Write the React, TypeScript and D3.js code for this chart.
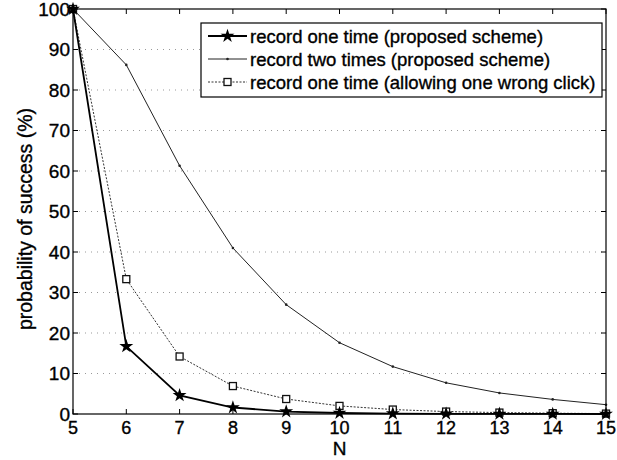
import React from "react";
import * as d3 from "d3";

const N = [5, 6, 7, 8, 9, 10, 11, 12, 13, 14, 15];
const recordOne = [100, 16.7, 4.6, 1.6, 0.6, 0.25, 0.1, 0.05, 0.02, 0.01, 0];
const recordTwo = [100, 86.2, 61.3, 41, 27, 17.6, 11.7, 7.7, 5.2, 3.6, 2.3];
const recordOneWrong = [100, 33.3, 14.2, 6.9, 3.7, 2.0, 1.1, 0.6, 0.35, 0.2, 0.1];
const yTicks = [0, 10, 20, 30, 40, 50, 60, 70, 80, 90, 100];
const legendLabels = [
  "record one time (proposed scheme)",
  "record two times (proposed scheme)",
  "record one time (allowing one wrong click)",
];

const W = 617, H = 460;
const L = 73, R = 606, T = 9, B = 414;
const FONT = "'Liberation Sans', Arial, Helvetica, sans-serif";

export default function App() {
  const x = d3.scaleLinear().domain([5, 15]).range([L, R]);
  const y = d3.scaleLinear().domain([0, 100]).range([B, T]);
  const line = d3.line<number>().x((_, i) => x(N[i])).y((d) => y(d));
  const star = d3.symbol().type(d3.symbolStar).size(60)() as string;
  const tick = 5;
  const txt = { fill: "#000", stroke: "#000", strokeWidth: 0.35 } as any;

  return (
    <svg width={W} height={H} style={{ position: "absolute", left: 0, top: 0, background: "#fff" }} fontFamily={FONT}>
      <rect x={0} y={0} width={W} height={H} fill="#fff" />
      {/* grid */}
      {yTicks.filter((t) => t > 0 && t < 100).map((t) => (
        <line key={"g" + t} x1={L} x2={R} y1={y(t)} y2={y(t)} stroke="#999" strokeWidth={1} strokeDasharray="1,5" />
      ))}
      {/* series 2 */}
      <path d={line(recordTwo) || ""} fill="none" stroke="#222" strokeWidth={1} />
      {recordTwo.map((v, i) => (
        <circle key={"b" + i} cx={x(N[i])} cy={y(v)} r={1.3} fill="#222" />
      ))}
      {/* series 3 */}
      <path d={line(recordOneWrong) || ""} fill="none" stroke="#333" strokeWidth={1} strokeDasharray="2,1.5" />
      {recordOneWrong.map((v, i) => (
        <rect key={"c" + i} x={x(N[i]) - 3.5} y={y(v) - 3.5} width={7} height={7} fill="#fff" stroke="#111" strokeWidth={1.3} />
      ))}
      {/* series 1 */}
      <path d={line(recordOne) || ""} fill="none" stroke="#000" strokeWidth={1.8} />
      {recordOne.map((v, i) => (
        <path key={"a" + i} d={star} transform={`translate(${x(N[i])},${y(v)})`} fill="#000" />
      ))}
      {/* frame */}
      <rect x={L} y={T} width={R - L} height={B - T} fill="none" stroke="#000" strokeWidth={1.2} />
      {/* x ticks */}
      {N.map((n) => (
        <g key={"xt" + n}>
          <line x1={x(n)} x2={x(n)} y1={B} y2={B - tick} stroke="#000" />
          <line x1={x(n)} x2={x(n)} y1={T} y2={T + tick} stroke="#000" />
          <text x={x(n)} y={433.5} fontSize={18} textAnchor="middle" {...txt}>{n}</text>
        </g>
      ))}
      {/* y ticks */}
      {yTicks.map((t) => (
        <g key={"yt" + t}>
          <line x1={L} x2={L + tick} y1={y(t)} y2={y(t)} stroke="#000" />
          <line x1={R} x2={R - tick} y1={y(t)} y2={y(t)} stroke="#000" />
          <text x={L - 3} y={y(t) + 6.5} fontSize={19} textAnchor="end" {...txt}>{t}</text>
        </g>
      ))}
      {/* axis labels */}
      <text x={x(10)} y={455} fontSize={19} textAnchor="middle" {...txt}>N</text>
      <text transform={`translate(32,219) rotate(-90)`} fontSize={19.5} textAnchor="middle" {...txt}>
        probability of success (%)
      </text>
      {/* legend */}
      <rect x={201} y={23} width={401} height={74} fill="#fff" stroke="#000" strokeWidth={1.2} />
      {legendLabels.map((lab, i) => {
        const cy = 36 + i * 23;
        return (
          <g key={"l" + i}>
            {i === 0 && <line x1={208} x2={247} y1={cy} y2={cy} stroke="#000" strokeWidth={1.8} />}
            {i === 1 && <line x1={208} x2={247} y1={cy} y2={cy} stroke="#222" strokeWidth={1} />}
            {i === 2 && <line x1={208} x2={247} y1={cy} y2={cy} stroke="#333" strokeWidth={1} strokeDasharray="2,1.5" />}
            {i === 0 && <path d={star} transform={`translate(227.5,${cy})`} fill="#000" />}
            {i === 1 && <circle cx={227.5} cy={cy} r={1.3} fill="#222" />}
            {i === 2 && <rect x={224} y={cy - 3.5} width={7} height={7} fill="#fff" stroke="#111" strokeWidth={1.3} />}
            <text x={250} y={cy + 6.5} fontSize={18.5} {...txt}>{lab}</text>
          </g>
        );
      })}
    </svg>
  );
}
